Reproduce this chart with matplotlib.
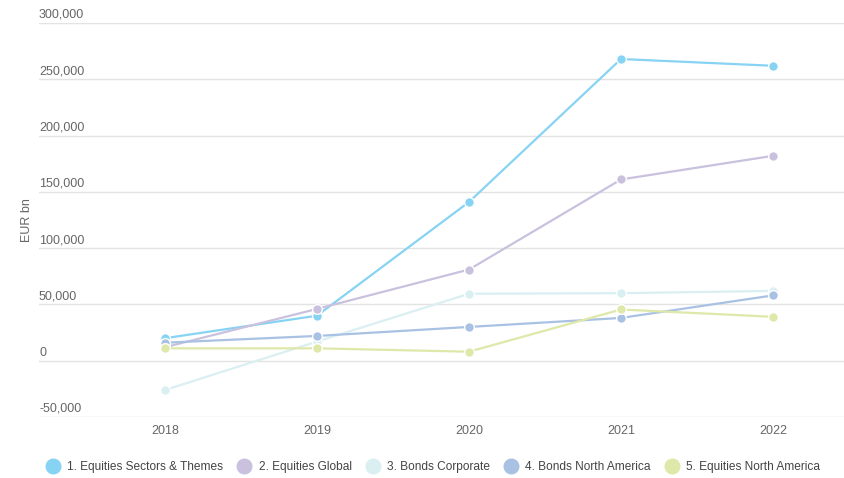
import matplotlib.pyplot as plt
from matplotlib.lines import Line2D
from matplotlib.transforms import blended_transform_factory

plt.rcParams["font.family"] = ["Liberation Sans", "DejaVu Sans"]

years = ["2018", "2019", "2020", "2021", "2022"]
series_names = [
    "1. Equities Sectors & Themes",
    "2. Equities Global",
    "3. Bonds Corporate",
    "4. Bonds North America",
    "5. Equities North America",
]
equities_sectors = [20000, 40000, 141000, 268000, 262000]
equities_global = [12000, 46000, 81000, 161000, 182000]
bonds_corporate = [-26000, 17000, 59500, 60000, 62000]
bonds_north_america = [16000, 22000, 30000, 38000, 58000]
equities_north_america = [11000, 11000, 8000, 45500, 39000]
y_ticks = [-50000, 0, 50000, 100000, 150000, 200000, 250000, 300000]

colors = ["#87d3f3", "#c9c1de", "#daeff1", "#a9c1e2", "#dde8a9"]
all_series = [equities_sectors, equities_global, bonds_corporate,
              bonds_north_america, equities_north_america]

fig = plt.figure(figsize=(8.45, 4.78), dpi=100)
ax = fig.add_axes([39 / 845, 1 - 417 / 478, 1 - 39 / 845, (417 - 23) / 478])

x = list(range(len(years)))
for vals, col in zip(all_series, colors):
    ax.plot(x, vals, color=col, lw=1.6, marker="o", markersize=7,
            markerfacecolor=col, markeredgecolor="white", markeredgewidth=1,
            zorder=3)

ax.set_ylim(-50000, 300000)
ax.set_xlim(-126 / 152, 4 + 72 / 152)
ax.set_yticks(y_ticks)
ax.yaxis.grid(True, color="#e3e3e3", lw=1)
ax.tick_params(axis="y", length=0, labelleft=False)
ax.tick_params(axis="x", length=0, labelsize=9, colors="#666666", pad=6)
ax.set_xticks(x)
ax.set_xticklabels(years)
for s in ax.spines.values():
    s.set_visible(False)

trans = blended_transform_factory(ax.transAxes, ax.transData)
for t in y_ticks:
    ax.annotate(f"{t:,}", xy=(0, t), xycoords=trans, xytext=(0, 1.5),
                textcoords="offset points", ha="left", va="bottom",
                fontsize=9, color="#666666")

fig.text(27 / 845, 1 - 220 / 478, "EUR bn", rotation=90, ha="center",
         va="center", fontsize=9, color="#666666")

handles = [Line2D([], [], lw=0, marker="o", markersize=10.5, color=c)
           for c in colors]
fig.legend(handles, series_names, loc="center", ncol=5,
           bbox_to_anchor=(0.513, 1 - 467 / 478), frameon=False,
           fontsize=8.6, labelcolor="#444444", handletextpad=0.7,
           columnspacing=1.25, handlelength=1.0)

fig.savefig("out.png", dpi=100)
